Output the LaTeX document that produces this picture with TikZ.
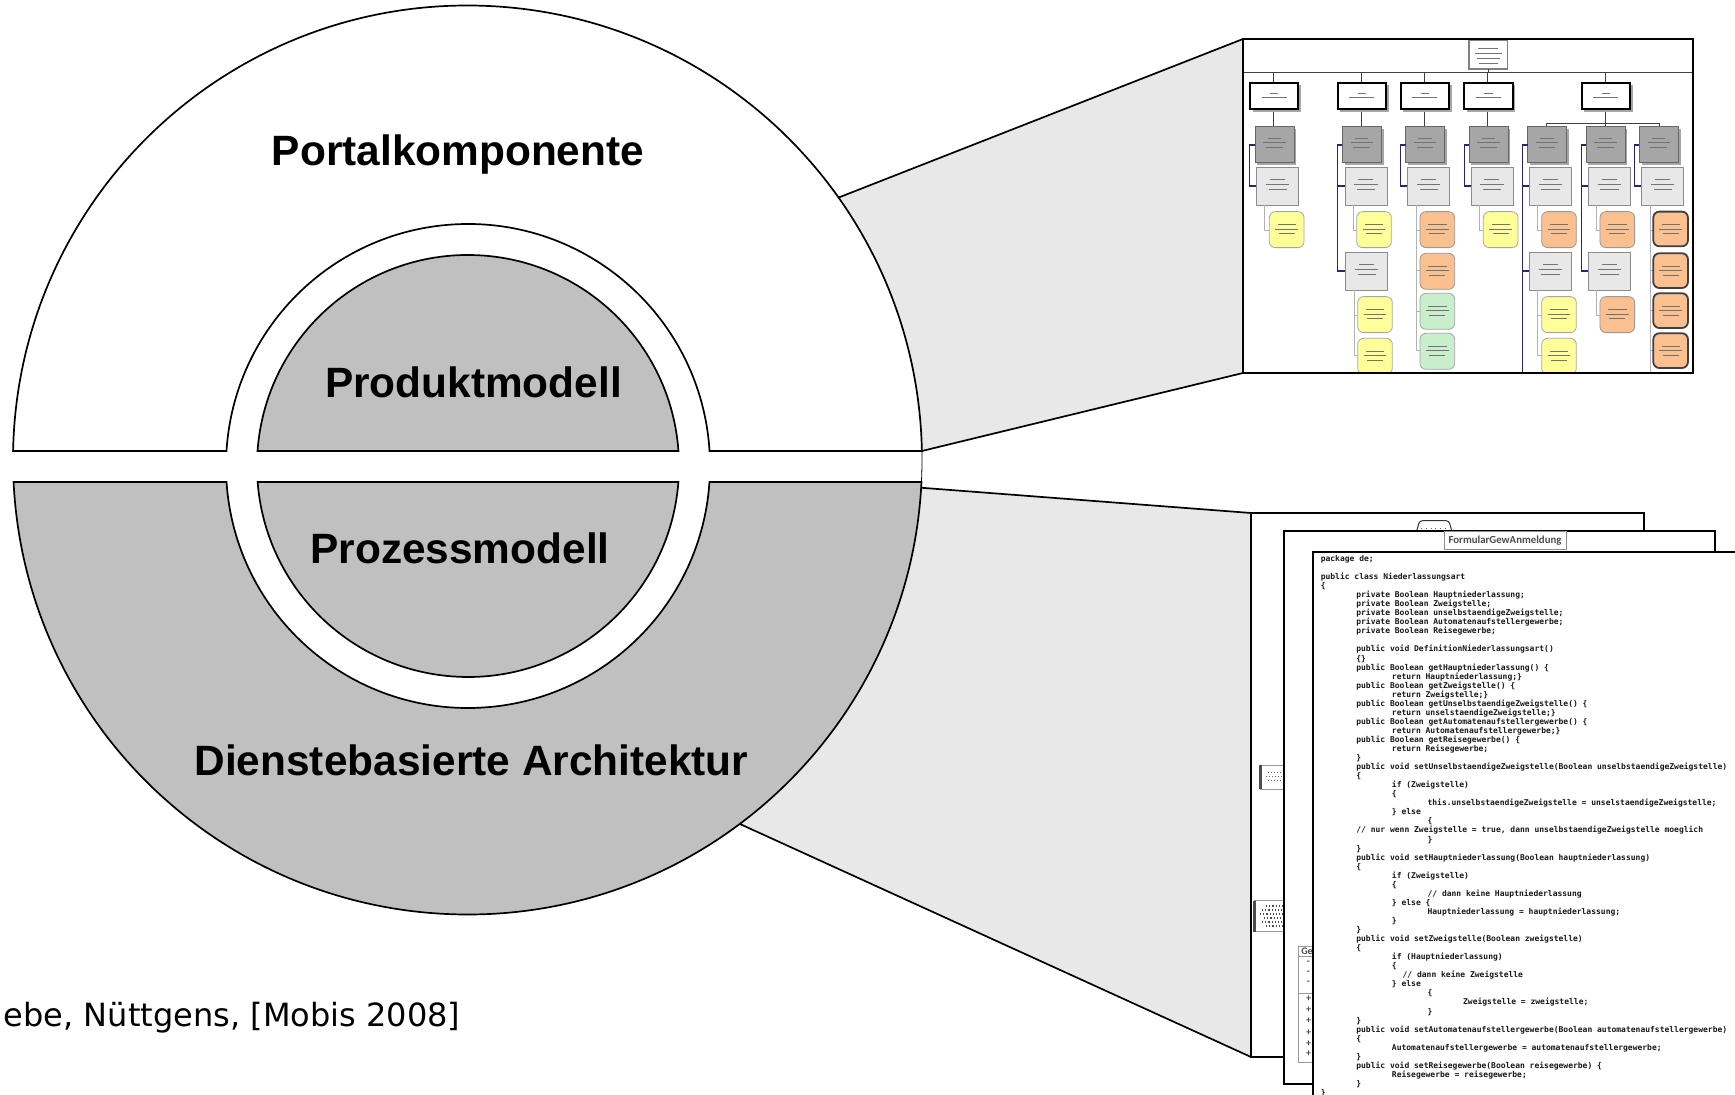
\documentclass[tikz,border=0pt]{standalone}
\usepackage{fontspec}
\setmainfont{Liberation Sans}
\newfontfamily\citefont{DejaVu Sans}
\newfontfamily\codefont{DejaVu Sans Mono}
\newfontfamily\umlfont{Carlito}
\usetikzlibrary{calc}

\definecolor{ringgray}{RGB}{192,192,192}
\definecolor{wedgegray}{RGB}{232,232,232}
\definecolor{lvltwogray}{RGB}{166,166,166}
\definecolor{lvlthreegray}{RGB}{232,232,232}
\definecolor{navyline}{RGB}{38,38,115}
\definecolor{ylwfill}{RGB}{255,255,153}
\definecolor{orgfill}{RGB}{250,192,144}
\definecolor{grnfill}{RGB}{200,238,204}

\tikzset{every picture/.style={line width=0.75pt}}
\tikzset{
  bandwhite/.style={draw=black, fill=white, line width=0.85pt},
  bandgray/.style={draw=black, fill=ringgray, line width=0.85pt},
  wedge/.style={fill=wedgegray},
  wedgeline/.style={draw=black, line width=0.85pt},
  title/.style={anchor=base, inner sep=0pt, font=\fontsize{21.2}{25}\selectfont\bfseries},
  cite/.style={anchor=base east, inner sep=0pt, font=\citefont\fontsize{16}{19}\selectfont},
  frame/.style={draw=black, line width=1pt},
  page/.style={draw=black, fill=white, line width=0.9pt},
  orgone/.style={draw=black, fill=white, line width=0.9pt},
  orgtwo/.style={draw=black!60, fill=lvltwogray, line width=0.4pt},
  orgthree/.style={draw=black!45, fill=lvlthreegray, line width=0.4pt},
  orgshadow/.style={fill=black!35},
  ylwbox/.style={draw=black!35, fill=ylwfill, line width=0.4pt, rounded corners=3pt},
  orgbox/.style={draw=black!40, fill=orgfill, line width=0.4pt, rounded corners=3pt},
  brnbox/.style={draw=black!75, fill=orgfill, line width=0.9pt, rounded corners=3pt},
  grnbox/.style={draw=black!35, fill=grnfill, line width=0.4pt, rounded corners=3pt},
  orglink/.style={draw=black!75, line width=0.5pt},
  navylink/.style={draw=navyline, line width=0.6pt},
  stemlink/.style={draw=black!30, line width=0.3pt},
  orgtext/.style={draw=black!55, line width=0.35pt},
  codeline/.style={anchor=base west, inner sep=0pt, text=black!90, font=\codefont\bfseries\fontsize{4}{4.5}\selectfont},
  umltiny/.style={inner sep=0pt, text=black!70, font=\umlfont\bfseries\fontsize{5}{6}\selectfont}
}

\begin{document}
\begin{tikzpicture}[x=0.5pt,y=0.5pt,yscale=-1,xscale=1]
    \useasboundingbox (0,0) rectangle (1735,1095);
    \clip (0,0) rectangle (1735,1095);

    \coordinate (c0) at (467.5,460);
    \coordinate (chartnw) at (1243,39);
    \coordinate (chartsw) at (1243,373);
    \coordinate (backnw) at (1251,513);
    \coordinate (backsw) at (1251,1057);
    \coordinate (rimtop) at (921.91,451);
    \coordinate (topcut) at ($(c0)+(-35.27:454.5)$);
    \coordinate (lowcut) at ($(c0)+(3.5:454.5)$);
    \coordinate (botcut) at ($(c0)+(53.2:454.5)$);

    %Wedge to the org chart
    \fill[wedge] (topcut) -- (chartnw) -- (chartsw) -- (rimtop) arc[start angle=-1.135, end angle=-35.27, radius=454.5] -- cycle;
    \draw[wedgeline] (topcut) -- (chartnw);
    \draw[wedgeline] (rimtop) -- (chartsw);
    %Wedge to the code pages
    \fill[wedge] (lowcut) -- (backnw) -- (backsw) -- (botcut) arc[start angle=53.2, end angle=3.5, radius=454.5] -- cycle;
    \draw[wedgeline] (lowcut) -- (backnw);
    \draw[wedgeline] (botcut) -- (backsw);

    %Upper outer band
    \draw[bandwhite] (13.09,451) arc[start angle=181.135, end angle=358.865, radius=454.5] -- (709.53,451) arc[start angle=-3.554, end angle=-176.446, radius=242] -- cycle;
    %Upper inner disk
    \draw[bandgray] (257.53,451) arc[start angle=184.077, end angle=355.923, radius=211] -- cycle;
    %Lower inner disk
    \draw[bandgray] (678.39,482) arc[start angle=4.349, end angle=175.651, radius=211] -- cycle;
    %Lower outer band
    \draw[bandgray] (921.47,482) arc[start angle=2.774, end angle=177.226, radius=454.5] -- (226.53,482) arc[start angle=176.209, end angle=3.791, radius=242] -- cycle;
    \draw[line width=0.4pt] (rimtop) arc[start angle=-1.135, end angle=2.774, radius=454.5];

    % Text Node
    \node[title] (portal) at (458,166) {Portalkomponente};
    \node[title] (produkt) at (473.5,398) {Produktmodell};
    \node[title] (prozess) at (460,564) {Prozessmodell};
    \node[title] (dienste) at (471.4,776) {Dienstebasierte Architektur};
    \node[cite] (source) at (461,1026) {ebe, Nüttgens, [Mobis 2008]};

    %Org chart thumbnail
    \fill[white] (chartnw) rectangle (1693,373);
    \begin{scope}[shift={(1230,30)},scale=0.3333]
        \clip (38,25) rectangle (1388,1028);
        % top box and main rail
        \draw[draw=black!50, fill=white, line width=0.8pt] (717,30) rectangle (833,117);
        \draw[orgtext] (745,55) -- ++(60,0) (735,70) -- ++(80,0) (740,85) -- ++(70,0) (748,100) -- ++(55,0);
        \draw[orglink] (38,128) -- (1388,128) (775,117) -- (775,128);
        \foreach \x in {130,395,585,773,1127} \draw[orglink] (\x,128) -- (\x,158);
        \foreach \x in {130,395,585,773} \draw[orglink] (\x,237) -- (\x,290);
        \draw[orglink] (1127,237) -- (1127,280) (950,280) -- (1288,280);
        \foreach \x in {950,1127,1288} \draw[orglink] (\x,280) -- (\x,290);
        % level one
        \foreach \x in {60,323,512,703,1055} {
            \fill[orgshadow] (\x+8,166) rectangle ++(145,79);
            \draw[orgone] (\x,158) rectangle ++(145,79);
            \draw[orgtext] (\x+60,190) -- ++(25,0) (\x+35,203) -- ++(75,0);
        }
        % level two
        \foreach \x in {75,337,527,717,893,1068,1228} {
            \fill[orgshadow] (\x+7,297) rectangle ++(117,108);
            \draw[orgtwo] (\x,290) rectangle ++(117,108);
            \draw[orgtext] (\x+38,325) -- ++(40,0) (\x+25,338) -- ++(67,0) (\x+33,351) -- ++(50,0);
        }
        % navy brackets
        \draw[navylink] (75,345) -- (58,345) -- (58,468) -- (80,468);
        \draw[navylink] (337,345) -- (323,345) -- (323,723) -- (347,723) (323,468) -- (345,468);
        \draw[navylink] (527,345) -- (512,345) -- (512,468) -- (533,468);
        \draw[navylink] (717,345) -- (703,345) -- (703,468) -- (723,468);
        \draw[navylink] (893,345) -- (877,345) -- (877,1028) (877,468) -- (898,468) (877,723) -- (898,723);
        \draw[navylink] (1068,345) -- (1055,345) -- (1055,723) -- (1075,723) (1055,468) -- (1075,468);
        \draw[navylink] (1228,345) -- (1213,345) -- (1213,468) -- (1235,468);
        % level three
        \foreach \x/\y in {80/412,345/412,533/412,723/412,898/412,1075/412,1235/412,347/668,898/668,1075/668} {
            \draw[orgthree] (\x,\y) rectangle ++(126,113);
            \draw[orgtext] (\x+40,\y+35) -- ++(45,0) (\x+28,\y+50) -- ++(70,0) (\x+36,\y+65) -- ++(55,0);
        }
        % stems to level four
        \draw[stemlink] (103,525) -- (103,600) -- (118,600);
        \draw[stemlink] (370,525) -- (370,600) -- (380,600);
        \draw[stemlink] (372,780) -- (372,975) -- (383,975) (372,855) -- (383,855);
        \draw[stemlink] (558,525) -- (558,962) -- (570,962) (558,600) -- (570,600) (558,722) -- (570,722) (558,845) -- (570,845);
        \draw[stemlink] (748,525) -- (748,600) -- (760,600);
        \draw[stemlink] (923,525) -- (923,600) -- (935,600);
        \draw[stemlink] (923,780) -- (923,975) -- (935,975) (923,855) -- (935,855);
        \draw[stemlink] (1100,525) -- (1100,600) -- (1110,600);
        \draw[stemlink] (1100,780) -- (1100,855) -- (1110,855);
        \draw[stemlink] (1260,525) -- (1260,1028) (1260,600) -- (1270,600) (1260,722) -- (1270,722) (1260,842) -- (1270,842) (1260,962) -- (1270,962);
        % level four
        \foreach \x/\y in {118/545,380/545,383/800,383/925,760/545,935/800,935/925}
            \draw[ylwbox] (\x,\y) rectangle ++(104,108);
        \foreach \x/\y in {570/545,570/670,935/545,1110/545,1110/800}
            \draw[orgbox] (\x,\y) rectangle ++(104,108);
        \foreach \x/\y in {1270/545,1270/670,1270/790,1270/910}
            \draw[brnbox] (\x,\y) rectangle ++(104,104);
        \foreach \x/\y in {570/790,570/910}
            \draw[grnbox] (\x,\y) rectangle ++(104,108);
        \foreach \x/\y in {118/545,380/545,383/800,383/925,760/545,935/800,935/925,570/545,570/670,935/545,1110/545,1110/800,1270/545,1270/670,1270/790,1270/910,570/790,570/910}
            \draw[orgtext] (\x+25,\y+38) -- ++(55,0) (\x+18,\y+52) -- ++(68,0) (\x+28,\y+66) -- ++(48,0);
    \end{scope}
    \draw[frame] (chartnw) rectangle (1693,373);

    %Back page (class diagram)
    \draw[page] (backnw) rectangle (1644,1057);
    \draw[draw=black!80, fill=white, line width=0.5pt, rounded corners=1.5pt] (1416.7,531) -- (1419.5,520.7) -- (1449,520.7) -- (1451.7,531);
    \draw[dotted, black!60, line width=0.4pt] (1421,528.5) -- (1447,528.5);
    \draw[draw=black!40, fill=white, line width=0.4pt] (1260,765) rectangle (1290,789);
    \draw[black!70, line width=1.2pt] (1260.5,765) -- (1260.5,789);
    \draw[densely dotted, black!60, line width=0.5pt] (1268,773) -- (1290,773) (1266,777) -- (1290,777) (1268,781) -- (1290,781);
    \draw[draw=black!40, fill=white, line width=0.4pt] (1254,900.7) rectangle (1290,931.7);
    \draw[black!70, line width=1.2pt] (1254.5,900.7) -- (1254.5,931.7);
    \draw[densely dotted, black!70, line width=0.6pt] (1266,906) -- (1290,906) (1262,910) -- (1290,910) (1260,914) -- (1290,914) (1264,918) -- (1290,918) (1262,922) -- (1290,922) (1266,926) -- (1290,926);

    %Second page (form class)
    \draw[page] (1284,531) rectangle (1715,1084);
    \draw[draw=black!45, fill=white, line width=0.5pt] (1444,531.5) rectangle (1566,550);
    \draw[black!30, line width=0.5pt] (1444,552.5) -- (1566,552.5);
    \node[umltiny, font=\umlfont\bfseries\fontsize{5.4}{6}\selectfont] (formular) at (1505,541) {FormularGewAnmeldung};
    \draw[draw=black!40, fill=white, line width=0.5pt] (1298.3,946) rectangle (1330,1062.7);
    \draw[black!40, line width=0.5pt] (1298.3,956) -- (1330,956) (1298.3,993.3) -- (1330,993.3);
    \node[umltiny, anchor=west] (geclass) at (1300.5,951) {Ge};
    \foreach \y [count=\k] in {962.7,972.7,982.7}
        \node[umltiny] (geattr\k) at (1308.5,\y) {-};
    \foreach \y [count=\k] in {998.3,1009.3,1020.7,1032.3,1043.3,1054}
        \node[umltiny] (geop\k) at (1308.5,\y) {+};

    %Front page (source code)
    \draw[page] (1313,552) rectangle (1760,1120);
    \foreach \ind/\txt [count=\n from 0] in {
        0/{package de;},
        0/{},
        0/{public class Niederlassungsart},
        0/{\{},
        1/{private Boolean Hauptniederlassung;},
        1/{private Boolean Zweigstelle;},
        1/{private Boolean unselbstaendigeZweigstelle;},
        1/{private Boolean Automatenaufstellergewerbe;},
        1/{private Boolean Reisegewerbe;},
        1/{},
        1/{public void DefinitionNiederlassungsart()},
        1/{\{\}},
        1/{public Boolean getHauptniederlassung() \{},
        2/{return Hauptniederlassung;\}},
        1/{public Boolean getZweigstelle() \{},
        2/{return Zweigstelle;\}},
        1/{public Boolean getUnselbstaendigeZweigstelle() \{},
        2/{return unselstaendigeZweigstelle;\}},
        1/{public Boolean getAutomatenaufstellergewerbe() \{},
        2/{return Automatenaufstellergewerbe;\}},
        1/{public Boolean getReisegewerbe() \{},
        2/{return Reisegewerbe;},
        1/{\}},
        1/{public void setUnselbstaendigeZweigstelle(Boolean unselbstaendigeZweigstelle)},
        1/{\{},
        2/{if (Zweigstelle)},
        2/{\{},
        3/{this.unselbstaendigeZweigstelle = unselstaendigeZweigstelle;},
        2/{\} else},
        3/{\{},
        1/{// nur wenn Zweigstelle = true, dann unselbstaendigeZweigstelle moeglich},
        3/{\}},
        1/{\}},
        1/{public void setHauptniederlassung(Boolean hauptniederlassung)},
        1/{\{},
        2/{if (Zweigstelle)},
        2/{\{},
        3/{// dann keine Hauptniederlassung},
        2/{\} else \{},
        3/{Hauptniederlassung = hauptniederlassung;},
        2/{\}},
        1/{\}},
        1/{public void setZweigstelle(Boolean zweigstelle)},
        1/{\{},
        2/{if (Hauptniederlassung)},
        2/{\{},
        2.3/{// dann keine Zweigstelle},
        2/{\} else},
        3/{\{},
        4/{Zweigstelle = zweigstelle;},
        3/{\}},
        1/{\}},
        1/{public void setAutomatenaufstellergewerbe(Boolean automatenaufstellergewerbe)},
        1/{\{},
        2/{Automatenaufstellergewerbe = automatenaufstellergewerbe;},
        1/{\}},
        1/{public void setReisegewerbe(Boolean reisegewerbe) \{},
        2/{Reisegewerbe = reisegewerbe;},
        1/{\}},
        0/{\}}
    }
        \node[codeline] (code\n) at ({1320+35.6*\ind},{561.5+9.05*\n}) {\txt};

\end{tikzpicture}
\end{document}
